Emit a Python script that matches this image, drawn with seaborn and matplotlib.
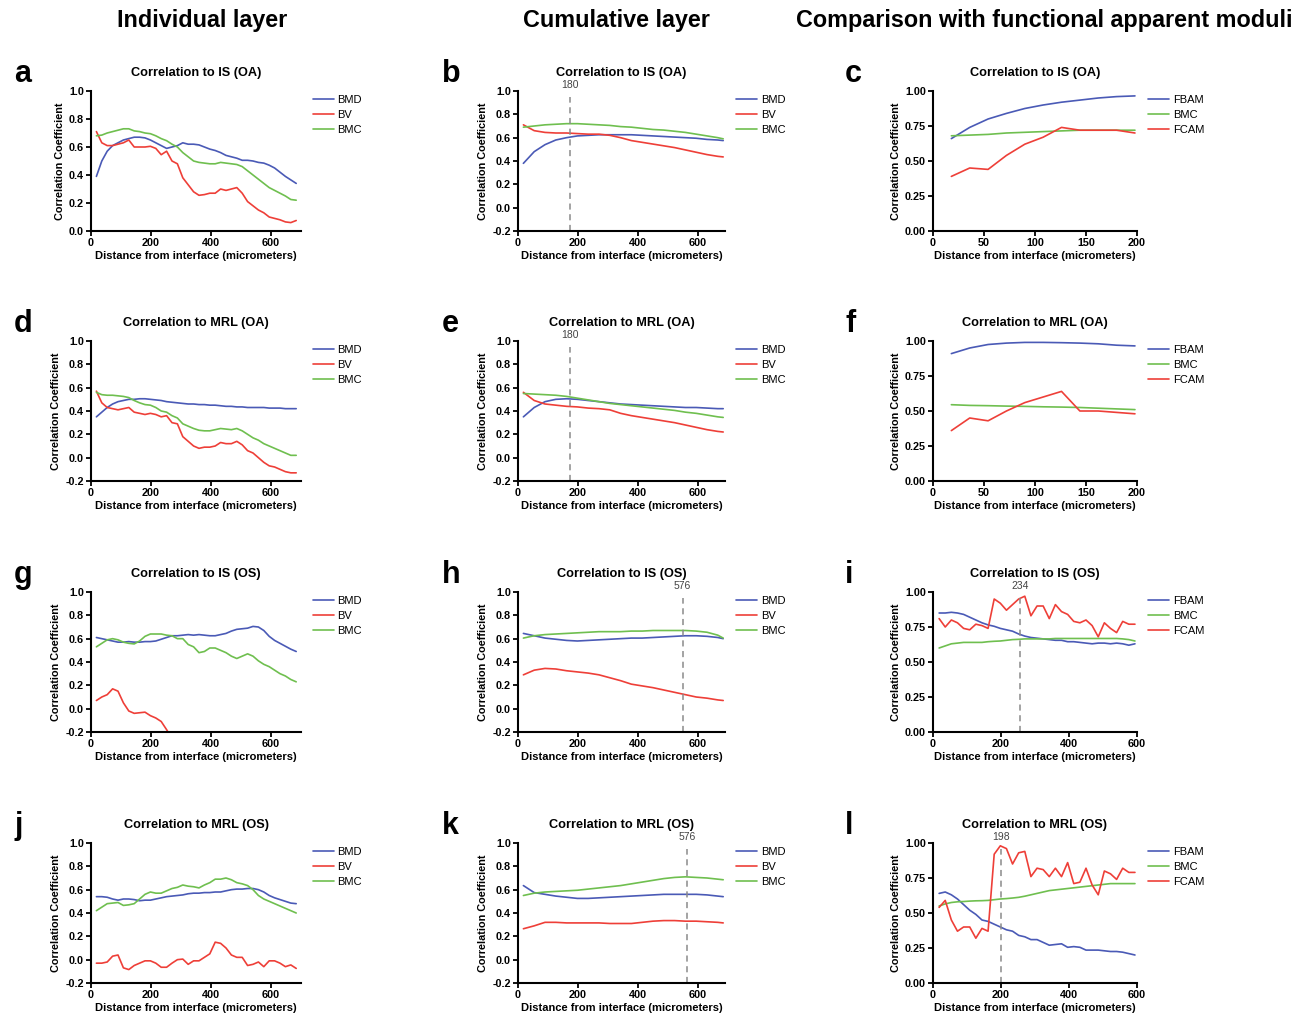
import pandas as pd
import seaborn as sns
import matplotlib.pyplot as plt
from matplotlib.ticker import FormatStrFormatter

sns.set_style("ticks")
plt.rcParams['font.family'] = ['Liberation Sans', 'DejaVu Sans']
plt.rcParams['axes.unicode_minus'] = False
for k in ("text.color", "axes.labelcolor", "xtick.color", "ytick.color", "axes.edgecolor"):
    plt.rcParams[k] = "black"

# ---- data ----
x_ind = [18, 36, 54, 72, 90, 108, 126, 144, 162, 180,
         198, 216, 234, 252, 270, 288, 306, 324, 342, 360,
         378, 396, 414, 432, 450, 468, 486, 504, 522, 540,
         558, 576, 594, 612, 630, 648, 666, 684]
x_cum = [18, 54, 90, 126, 162, 198, 234, 270, 306, 342,
         378, 414, 450, 486, 522, 558, 594, 630, 666, 684]
x_fc = [18, 36, 54, 72, 90, 108, 126, 144, 162, 180, 198]
x_os = [18, 36, 54, 72, 90, 108, 126, 144, 162, 180,
        198, 216, 234, 252, 270, 288, 306, 324, 342, 360,
        378, 396, 414, 432, 450, 468, 486, 504, 522, 540,
        558, 576, 594]

# a: individual, IS (OA)
a_bmd = [0.39, 0.50, 0.57, 0.61, 0.63, 0.65, 0.66, 0.67, 0.67, 0.665,
         0.65, 0.63, 0.61, 0.59, 0.60, 0.61, 0.63, 0.62, 0.62, 0.615,
         0.60, 0.585, 0.575, 0.56, 0.54, 0.53, 0.52, 0.505, 0.505, 0.50,
         0.49, 0.485, 0.47, 0.45, 0.42, 0.39, 0.365, 0.34]
a_bv = [0.71, 0.63, 0.61, 0.61, 0.62, 0.63, 0.65, 0.60, 0.60, 0.60,
        0.605, 0.59, 0.545, 0.57, 0.50, 0.48, 0.38, 0.33, 0.28, 0.255,
        0.26, 0.27, 0.27, 0.30, 0.29, 0.30, 0.31, 0.27, 0.21, 0.18,
        0.15, 0.13, 0.10, 0.09, 0.08, 0.065, 0.06, 0.075]
a_bmc = [0.68, 0.685, 0.70, 0.71, 0.72, 0.73, 0.73, 0.715, 0.71, 0.70,
         0.695, 0.68, 0.66, 0.645, 0.62, 0.60, 0.56, 0.53, 0.50, 0.49,
         0.485, 0.48, 0.48, 0.49, 0.485, 0.48, 0.475, 0.46, 0.43, 0.40,
         0.37, 0.34, 0.31, 0.29, 0.27, 0.25, 0.225, 0.22]

# d: individual, MRL (OA)
d_bmd = [0.35, 0.39, 0.43, 0.46, 0.48, 0.49, 0.50, 0.50, 0.505, 0.505,
         0.50, 0.495, 0.49, 0.48, 0.475, 0.47, 0.465, 0.46, 0.46, 0.455,
         0.455, 0.45, 0.45, 0.445, 0.44, 0.44, 0.435, 0.435, 0.43, 0.43,
         0.43, 0.43, 0.425, 0.425, 0.425, 0.42, 0.42, 0.42]
d_bv = [0.57, 0.47, 0.43, 0.42, 0.41, 0.42, 0.43, 0.39, 0.38, 0.37,
        0.38, 0.37, 0.35, 0.36, 0.30, 0.29, 0.18, 0.14, 0.10, 0.08,
        0.09, 0.09, 0.10, 0.13, 0.12, 0.12, 0.14, 0.11, 0.06, 0.04,
        0.00, -0.04, -0.07, -0.08, -0.10, -0.12, -0.13, -0.13]
d_bmc = [0.56, 0.54, 0.535, 0.535, 0.53, 0.525, 0.515, 0.49, 0.47, 0.455,
         0.45, 0.43, 0.40, 0.39, 0.36, 0.34, 0.29, 0.27, 0.25, 0.235,
         0.23, 0.23, 0.24, 0.25, 0.245, 0.24, 0.25, 0.23, 0.20, 0.17,
         0.15, 0.12, 0.10, 0.08, 0.06, 0.04, 0.02, 0.02]

# g: individual, IS (OS)
g_bmd = [0.61, 0.60, 0.59, 0.58, 0.57, 0.57, 0.575, 0.57, 0.57, 0.575,
         0.575, 0.58, 0.595, 0.61, 0.625, 0.625, 0.63, 0.635, 0.63, 0.635,
         0.63, 0.625, 0.625, 0.635, 0.645, 0.665, 0.68, 0.685, 0.69, 0.705,
         0.70, 0.67, 0.62, 0.585, 0.56, 0.535, 0.51, 0.49]
g_bv = [0.07, 0.10, 0.12, 0.17, 0.15, 0.05, -0.02, -0.04, -0.035, -0.03,
        -0.06, -0.08, -0.11, -0.18, -0.26]
g_bmc = [0.53, 0.56, 0.59, 0.60, 0.59, 0.57, 0.56, 0.555, 0.58, 0.62,
         0.64, 0.64, 0.64, 0.63, 0.625, 0.60, 0.60, 0.55, 0.53, 0.48,
         0.49, 0.52, 0.52, 0.50, 0.48, 0.45, 0.43, 0.45, 0.47, 0.45,
         0.41, 0.38, 0.36, 0.33, 0.30, 0.28, 0.25, 0.23]

# j: individual, MRL (OS)
j_bmd = [0.54, 0.54, 0.535, 0.52, 0.51, 0.52, 0.52, 0.515, 0.505, 0.51,
         0.51, 0.52, 0.53, 0.54, 0.545, 0.55, 0.555, 0.565, 0.57, 0.57,
         0.575, 0.575, 0.58, 0.58, 0.59, 0.60, 0.605, 0.605, 0.61, 0.61,
         0.60, 0.58, 0.55, 0.53, 0.515, 0.50, 0.485, 0.48]
j_bv = [-0.03, -0.03, -0.02, 0.03, 0.04, -0.07, -0.085, -0.05, -0.03, -0.01,
        -0.01, -0.03, -0.065, -0.065, -0.03, 0.00, 0.005, -0.04, -0.01, -0.01,
        0.02, 0.05, 0.15, 0.14, 0.10, 0.04, 0.02, 0.02, -0.05, -0.04,
        -0.02, -0.06, -0.01, -0.01, -0.03, -0.06, -0.045, -0.075]
j_bmc = [0.42, 0.45, 0.48, 0.485, 0.49, 0.465, 0.47, 0.48, 0.52, 0.56,
         0.58, 0.57, 0.57, 0.59, 0.61, 0.62, 0.64, 0.63, 0.625, 0.615,
         0.64, 0.66, 0.69, 0.69, 0.70, 0.685, 0.66, 0.65, 0.635, 0.60,
         0.55, 0.52, 0.50, 0.48, 0.46, 0.44, 0.42, 0.40]

# b: cumulative, IS (OA)
b_bmd = [0.38, 0.48, 0.54, 0.58, 0.60, 0.615, 0.62, 0.625, 0.625, 0.625,
         0.625, 0.62, 0.615, 0.61, 0.605, 0.60, 0.595, 0.585, 0.58, 0.575]
b_bv = [0.71, 0.66, 0.645, 0.64, 0.64, 0.635, 0.63, 0.63, 0.62, 0.60,
        0.575, 0.56, 0.545, 0.53, 0.515, 0.495, 0.475, 0.455, 0.44, 0.435]
b_bmc = [0.69, 0.70, 0.71, 0.715, 0.72, 0.72, 0.715, 0.71, 0.705, 0.695,
         0.69, 0.68, 0.67, 0.665, 0.655, 0.645, 0.63, 0.615, 0.60, 0.59]

# e: cumulative, MRL (OA)
e_bmd = [0.35, 0.43, 0.48, 0.50, 0.505, 0.50, 0.49, 0.48, 0.47, 0.46,
         0.455, 0.45, 0.445, 0.44, 0.435, 0.43, 0.43, 0.425, 0.42, 0.42]
e_bv = [0.56, 0.49, 0.46, 0.45, 0.44, 0.435, 0.425, 0.42, 0.41, 0.38,
        0.36, 0.345, 0.33, 0.315, 0.30, 0.28, 0.26, 0.24, 0.225, 0.22]
e_bmc = [0.55, 0.545, 0.54, 0.535, 0.525, 0.51, 0.495, 0.48, 0.465, 0.455,
         0.445, 0.435, 0.425, 0.415, 0.405, 0.39, 0.38, 0.365, 0.35, 0.345]

# h: cumulative, IS (OS)
h_bmd = [0.645, 0.625, 0.605, 0.595, 0.585, 0.58, 0.585, 0.59, 0.595, 0.60,
         0.605, 0.605, 0.61, 0.615, 0.62, 0.625, 0.625, 0.62, 0.61, 0.60]
h_bv = [0.29, 0.33, 0.345, 0.34, 0.325, 0.315, 0.305, 0.29, 0.265, 0.24,
        0.21, 0.195, 0.18, 0.16, 0.14, 0.12, 0.10, 0.09, 0.075, 0.07]
h_bmc = [0.605, 0.625, 0.635, 0.64, 0.645, 0.65, 0.655, 0.66, 0.66, 0.66,
         0.665, 0.665, 0.67, 0.67, 0.67, 0.67, 0.665, 0.655, 0.63, 0.605]

# k: cumulative, MRL (OS)
k_bmd = [0.635, 0.575, 0.56, 0.545, 0.535, 0.525, 0.525, 0.53, 0.535, 0.54,
         0.545, 0.55, 0.555, 0.56, 0.56, 0.56, 0.56, 0.555, 0.545, 0.54]
k_bv = [0.265, 0.29, 0.32, 0.32, 0.315, 0.315, 0.315, 0.315, 0.31, 0.31,
        0.31, 0.32, 0.33, 0.335, 0.335, 0.33, 0.33, 0.325, 0.32, 0.315]
k_bmc = [0.55, 0.57, 0.58, 0.585, 0.59, 0.595, 0.605, 0.615, 0.625, 0.635,
         0.65, 0.665, 0.68, 0.695, 0.705, 0.71, 0.705, 0.70, 0.69, 0.685]

# c, f: functional moduli (OA)
c_fbam = [0.66, 0.74, 0.80, 0.84, 0.875, 0.90, 0.92, 0.935, 0.95, 0.96, 0.965]
c_bmc = [0.68, 0.685, 0.69, 0.70, 0.705, 0.71, 0.715, 0.72, 0.72, 0.72, 0.72]
c_fcam = [0.39, 0.45, 0.44, 0.54, 0.62, 0.67, 0.74, 0.72, 0.72, 0.72, 0.70]
f_fbam = [0.91, 0.95, 0.975, 0.985, 0.99, 0.99, 0.988, 0.985, 0.98, 0.97, 0.965]
f_bmc = [0.545, 0.54, 0.538, 0.535, 0.533, 0.53, 0.528, 0.525, 0.52, 0.515, 0.51]
f_fcam = [0.36, 0.45, 0.43, 0.50, 0.56, 0.60, 0.64, 0.50, 0.50, 0.49, 0.48]

# i, l: functional moduli (OS)
i_fbam = [0.85, 0.85, 0.855, 0.85, 0.84, 0.82, 0.80, 0.78, 0.765, 0.755,
          0.74, 0.73, 0.72, 0.70, 0.685, 0.675, 0.67, 0.665, 0.66, 0.655,
          0.655, 0.645, 0.645, 0.64, 0.635, 0.63, 0.635, 0.635, 0.63, 0.635,
          0.63, 0.62, 0.63]
i_bmc = [0.60, 0.615, 0.63, 0.635, 0.64, 0.64, 0.64, 0.64, 0.645, 0.648,
         0.65, 0.655, 0.66, 0.662, 0.665, 0.665, 0.665, 0.665, 0.665, 0.668,
         0.668, 0.668, 0.668, 0.668, 0.668, 0.668, 0.668, 0.668, 0.668, 0.668,
         0.665, 0.66, 0.65]
i_fcam = [0.81, 0.75, 0.80, 0.78, 0.74, 0.73, 0.77, 0.76, 0.74, 0.95,
          0.92, 0.87, 0.91, 0.95, 0.97, 0.83, 0.90, 0.90, 0.81, 0.91,
          0.86, 0.84, 0.79, 0.78, 0.80, 0.76, 0.68, 0.78, 0.74, 0.71,
          0.79, 0.77, 0.77]
l_fbam = [0.64, 0.65, 0.63, 0.60, 0.56, 0.52, 0.49, 0.45, 0.44, 0.42,
          0.40, 0.38, 0.37, 0.34, 0.33, 0.31, 0.31, 0.29, 0.27, 0.275,
          0.28, 0.255, 0.26, 0.255, 0.235, 0.235, 0.235, 0.23, 0.225, 0.225,
          0.22, 0.21, 0.20]
l_bmc = [0.55, 0.565, 0.575, 0.58, 0.582, 0.585, 0.587, 0.588, 0.59, 0.595,
         0.60, 0.603, 0.607, 0.612, 0.62, 0.63, 0.64, 0.65, 0.66, 0.665,
         0.67, 0.675, 0.68, 0.685, 0.69, 0.695, 0.70, 0.705, 0.71, 0.71,
         0.71, 0.71, 0.71]
l_fcam = [0.54, 0.59, 0.45, 0.37, 0.40, 0.40, 0.32, 0.39, 0.37, 0.92,
          0.98, 0.96, 0.85, 0.93, 0.94, 0.76, 0.82, 0.81, 0.76, 0.82,
          0.76, 0.86, 0.71, 0.72, 0.82, 0.70, 0.63, 0.80, 0.78, 0.74,
          0.82, 0.79, 0.79]

headers = ["Individual layer", "Cumulative layer",
           "Comparison with functional apparent moduli"]

BLUE, RED, GREEN = "#4a5ab6", "#ee3f38", "#6fbf4f"
pal = {"BMD": BLUE, "BV": RED, "BMC": GREEN, "FBAM": BLUE, "FCAM": RED}

# (row, col, letter, title, x, series, vline)
panels = [
    (0, 0, "a", "Correlation to IS (OA)", x_ind, [("BMD", a_bmd), ("BV", a_bv), ("BMC", a_bmc)], None),
    (0, 1, "b", "Correlation to IS (OA)", x_cum, [("BMD", b_bmd), ("BV", b_bv), ("BMC", b_bmc)], (173, "180")),
    (0, 2, "c", "Correlation to IS (OA)", x_fc, [("FBAM", c_fbam), ("BMC", c_bmc), ("FCAM", c_fcam)], None),
    (1, 0, "d", "Correlation to MRL (OA)", x_ind, [("BMD", d_bmd), ("BV", d_bv), ("BMC", d_bmc)], None),
    (1, 1, "e", "Correlation to MRL (OA)", x_cum, [("BMD", e_bmd), ("BV", e_bv), ("BMC", e_bmc)], (173, "180")),
    (1, 2, "f", "Correlation to MRL (OA)", x_fc, [("FBAM", f_fbam), ("BMC", f_bmc), ("FCAM", f_fcam)], None),
    (2, 0, "g", "Correlation to IS (OS)", x_ind, [("BMD", g_bmd), ("BV", g_bv), ("BMC", g_bmc)], None),
    (2, 1, "h", "Correlation to IS (OS)", x_cum, [("BMD", h_bmd), ("BV", h_bv), ("BMC", h_bmc)], (549, "576")),
    (2, 2, "i", "Correlation to IS (OS)", x_os, [("FBAM", i_fbam), ("BMC", i_bmc), ("FCAM", i_fcam)], (257, "234")),
    (3, 0, "j", "Correlation to MRL (OS)", x_ind, [("BMD", j_bmd), ("BV", j_bv), ("BMC", j_bmc)], None),
    (3, 1, "k", "Correlation to MRL (OS)", x_cum, [("BMD", k_bmd), ("BV", k_bv), ("BMC", k_bmc)], (564, "576")),
    (3, 2, "l", "Correlation to MRL (OS)", x_os, [("FBAM", l_fbam), ("BMC", l_bmc), ("FCAM", l_fcam)], (200, "198")),
]

W, H = 1299, 1017
col_left = [91, 518, 933]
col_width = [210, 207, 204]
row_top = [91, 341, 592, 843]
ax_h = 140
letter_x = [14, 442, 845]

fig = plt.figure(figsize=(W / 100, H / 100), dpi=100)

for row, col, letter, title, xs, series, vline in panels:
    ax = fig.add_axes([col_left[col] / W, 1 - (row_top[row] + ax_h) / H,
                       col_width[col] / W, ax_h / H])
    df = pd.concat([pd.DataFrame({"x": xs[:len(v)], "r": v, "s": n}) for n, v in series])
    order = [n for n, _ in series]
    sns.lineplot(data=df, x="x", y="r", hue="s", hue_order=order, palette=pal,
                 errorbar=None, linewidth=1.2, ax=ax)
    sns.despine(ax=ax)
    for s in ("left", "bottom"):
        ax.spines[s].set_linewidth(1.5)
    ax.tick_params(direction="out", length=3.5, width=1.3, labelsize=7.8, pad=1.5)

    if col == 2:
        ax.set_ylim(0, 1.0)
        ax.set_yticks([0, 0.25, 0.5, 0.75, 1.0])
        ax.yaxis.set_major_formatter(FormatStrFormatter("%.2f"))
        if row < 2:
            ax.set_xlim(0, 200)
            ax.set_xticks([0, 50, 100, 150, 200])
        else:
            ax.set_xlim(0, 600)
            ax.set_xticks([0, 200, 400, 600])
    else:
        if letter == "a":
            ax.set_ylim(0, 1.0)
            ax.set_yticks([0, 0.2, 0.4, 0.6, 0.8, 1.0])
        else:
            ax.set_ylim(-0.2, 1.0)
            ax.set_yticks([-0.2, 0, 0.2, 0.4, 0.6, 0.8, 1.0])
        ax.yaxis.set_major_formatter(FormatStrFormatter("%.1f"))
        ax.set_xlim(0, 700 if col == 0 else 690)
        ax.set_xticks([0, 200, 400, 600])
    for t in ax.get_xticklabels() + ax.get_yticklabels():
        t.set_fontweight("bold")

    ax.set_xlabel("Distance from interface (micrometers)", fontsize=8,
                  fontweight="bold", labelpad=2)
    ax.set_ylabel("Correlation Coefficient", fontsize=7.8, fontweight="bold", labelpad=3)
    ax.set_title(title, fontsize=9.2, fontweight="bold", pad=11)

    if vline is not None:
        vx, vlab = vline
        ax.axvline(vx, ymin=0, ymax=0.96, color="#8a8a8a", ls=(0, (4, 3)), lw=1.1)
        ax.annotate(vlab, xy=(vx, 1.0), xycoords=("data", "axes fraction"),
                    xytext=(0, 1), textcoords="offset points", ha="center",
                    va="bottom", fontsize=7.5, color="#444444")

    sns.move_legend(ax, "upper left", bbox_to_anchor=(1.055, 0.97), frameon=False,
                    title=None, fontsize=8, handlelength=1.9, handletextpad=0.35,
                    labelspacing=0.42, borderaxespad=0, borderpad=0)

    fig.text(letter_x[col] / W, 1 - (row_top[row] - 17) / H, letter,
             fontsize=22, fontweight="bold", va="center", ha="left")

fig.text(202 / W, 1 - 20 / H, headers[0], ha="center", va="center",
         fontsize=16.8, fontweight="bold")
fig.text(616 / W, 1 - 20 / H, headers[1], ha="center", va="center",
         fontsize=16.8, fontweight="bold")
fig.text(796 / W, 1 - 20 / H, headers[2], ha="left", va="center",
         fontsize=16.8, fontweight="bold")

fig.savefig("out.png", dpi=100)
